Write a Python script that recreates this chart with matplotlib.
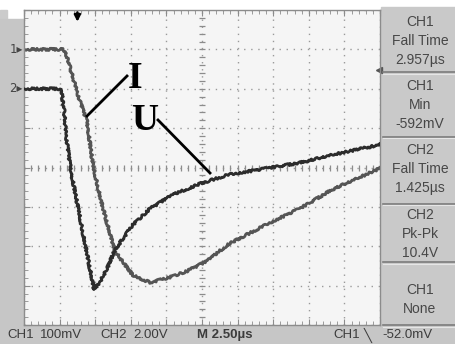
import matplotlib
matplotlib.use("Agg")
import matplotlib.pyplot as plt
from matplotlib.patches import Rectangle
from matplotlib.lines import Line2D
import numpy as np

# ---- data ----
# CH1 (current, I): time in us, value in mV
t1_us = [-3.75, -1.01, -0.73, -0.38, 0.18, 0.67, 1.10, 1.80, 2.64, 3.90,
         5.10, 6.29, 7.70, 9.10, 10.58, 13.31, 15.63, 17.95, 21.25]
ch1_mV = [0, 0, -18, -64, -132, -183, -297, -404, -513, -574,
          -592, -581, -563, -538, -495, -444, -404, -355, -302]

# CH2 (voltage, U): time in us, value in V
t2_us = [-3.75, -1.22, -1.08, -0.94, -0.80, -0.66, -0.52, -0.45, 0.32, 1.17,
         1.59, 2.08, 2.64, 3.90, 5.10, 6.71, 8.61, 10.58, 15.63, 17.95, 21.25]
ch2_V = [0, 0, -0.30, -1.07, -2.34, -3.10, -3.86, -4.21, -7.06, -10.20,
         -9.80, -9.14, -8.17, -6.90, -6.09, -5.38, -4.82, -4.37, -3.76, -3.35, -2.84]

# scope settings
time_div = 2.5        # us/div
ch1_div = 100         # mV/div
ch2_div = 2.0         # V/div
ch1_pos = 3           # divisions above centre
ch2_pos = 2
trig_pos = 1.5        # divisions from left edge
trig_level_mV = -52

panel_labels = [["CH1", "Fall Time", "2.957\u00b5s"],
                ["CH1", "Min", "-592mV"],
                ["CH2", "Fall Time", "1.425\u00b5s"],
                ["CH2", "Pk-Pk", "10.4V"],
                ["CH1", "None"]]
status_texts = ["CH1", "100mV", "CH2", "2.00V", "M 2.50\u00b5s", "CH1", "\u2572", "-52.0mV"]

W, H = 456, 344
sans = ["Liberation Sans", "DejaVu Sans"]


def fx(x):
    return x / W


def fy(y):
    return 1 - y / H


fig = plt.figure(figsize=(W / 100, H / 100), dpi=100)
fig.patch.set_facecolor("white")

# frame pieces around the graticule
fig.patches.append(Rectangle((0, fy(325)), fx(7), fy(10) - fy(325),
                             transform=fig.transFigure, color="#cbcbcb", zorder=-2))
fig.patches.append(Rectangle((0, 0), 1, 1 - fy(325), transform=fig.transFigure,
                             color="#c6c6c6", zorder=-2))
fig.patches.append(Rectangle((fx(381), fy(325)), 1 - fx(381), fy(7) - fy(325),
                             transform=fig.transFigure, color="#c9c9c9", zorder=-2))

# panel separators
for ys in [72, 137, 204, 262, 325]:
    fig.lines.append(Line2D([fx(383), 1], [fy(ys), fy(ys)], transform=fig.transFigure,
                            color="#7c7c7c", lw=1.2, zorder=3))
    fig.lines.append(Line2D([fx(383), 1], [fy(ys + 1.5), fy(ys + 1.5)], transform=fig.transFigure,
                            color="#e6e6e6", lw=0.8, zorder=3))

# ---- graticule ----
ax = fig.add_axes([fx(24), fy(325), fx(380) - fx(24), fy(10) - fy(325)])
ax.set_facecolor("#f5f5f5")
tmin = -trig_pos * time_div
tmax = tmin + 10 * time_div
ymin = (-4 - ch1_pos) * ch1_div
ymax = (4 - ch1_pos) * ch1_div
ax.set_xlim(tmin, tmax)
ax.set_ylim(ymin, ymax)

ax.set_xticks(np.arange(tmin, tmax + 0.01, time_div))
ax.set_yticks(np.arange(ymin, ymax + 1, ch1_div))
ax.set_xticks(np.arange(tmin, tmax + 0.01, time_div / 5), minor=True)
ax.set_yticks(np.arange(ymin, ymax + 1, ch1_div / 5), minor=True)
ax.tick_params(which="both", direction="in", top=True, right=True,
               labelbottom=False, labelleft=False, color="#8c8c8c")
ax.tick_params(which="major", length=4)
ax.tick_params(which="minor", length=3)
ax.grid(True, which="major", color="#9a9a9a", lw=1.0, ls=(0, (1, 4.1)))
for s in ax.spines.values():
    s.set_color("#8c8c8c")
    s.set_linewidth(1.0)

# centre cross with small ticks
tc = tmin + 5 * time_div
vc = -ch1_pos * ch1_div
ax.plot(np.arange(tmin, tmax, time_div / 5), np.full(50, vc), ls="none",
        marker="|", ms=4, color="#8c8c8c", mew=0.9)
ax.plot(np.full(40, tc), np.arange(ymin, ymax, ch1_div / 5),
        ls="none", marker="_", ms=4, color="#8c8c8c", mew=0.9)

# second channel shares time axis
ax2 = ax.twinx()
ax2.set_ylim((-4 - ch2_pos) * ch2_div, (4 - ch2_pos) * ch2_div)
ax2.axis("off")

l1, = ax.plot(t1_us, ch1_mV, color="#555555", lw=2.0, solid_joinstyle="round")
l2, = ax2.plot(t2_us, ch2_V, color="#2c2c2c", lw=2.0, solid_joinstyle="round")
for ln in (l1, l2):
    ln.set_sketch_params(scale=1.1, length=2.5, randomness=6)

# trigger level marker on the right edge
ax.plot([tmax - 0.1], [trig_level_mV], marker="<", ms=5, color="#555555", clip_on=False)

# trigger position arrow at top
ax.annotate("", xy=(0, ymax - 0.3 * ch1_div), xytext=(0, ymax - 0.06 * ch1_div),
            arrowprops=dict(arrowstyle="-|>", color="black", lw=1.8, mutation_scale=9,
                            shrinkA=0, shrinkB=0),
            annotation_clip=False)

# channel ground markers
ax.text(-0.004, 0, "1\u25b8", transform=ax.get_yaxis_transform(), ha="right", va="center",
        fontsize=8.5, color="#444444", family=["DejaVu Sans"])
ax2.text(-0.004, 0, "2\u25b8", transform=ax2.get_yaxis_transform(), ha="right", va="center",
         fontsize=8.5, color="#444444", family=["DejaVu Sans"])

# I / U labels with pointer lines
fig.text(fx(135), fy(78), "I", ha="center", va="center", fontsize=27, fontweight="bold",
         family=["Liberation Serif"], color="black")
fig.text(fx(145), fy(121), "U", ha="center", va="center", fontsize=27, fontweight="bold",
         family=["Liberation Serif"], color="black")
fig.lines.append(Line2D([fx(127), fx(87)], [fy(76), fy(116)], transform=fig.transFigure,
                        color="black", lw=2.0, zorder=5))
fig.lines.append(Line2D([fx(158), fx(210)], [fy(120), fy(173)], transform=fig.transFigure,
                        color="black", lw=2.0, zorder=5))

# right measurement panel
panel_tops = [22, 86, 150, 215, 290]
for top, lines in zip(panel_tops, panel_labels):
    for i, txt in enumerate(lines):
        fig.text(fx(420), fy(top + i * 19), txt, ha="center", va="center", fontsize=10,
                 color="#474747", family=sans)

# bottom status line
status_x = [7, 40, 100, 133, 197, 333, 364, 382]
for x, txt in zip(status_x, status_texts):
    fig.text(fx(x), fy(335), txt, ha="left", va="center", fontsize=9.5, color="#3c3c3c",
             family=sans + ["DejaVu Sans"], fontweight="bold" if txt.startswith("M ") else "normal")

fig.savefig("out.png", dpi=100)
